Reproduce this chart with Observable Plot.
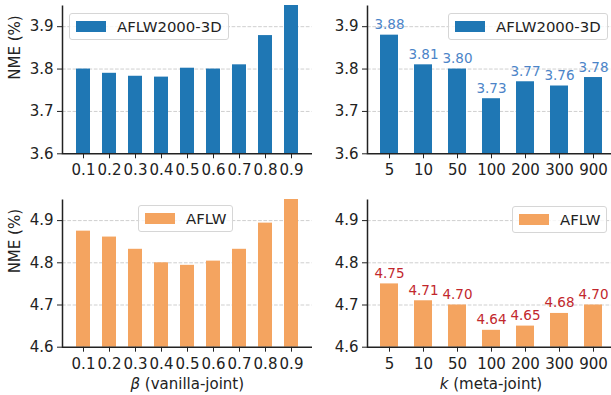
<!DOCTYPE html>
<html>
<head>
<meta charset="utf-8">
<script src="https://cdn.jsdelivr.net/npm/d3@7"></script>
<script src="https://cdn.jsdelivr.net/npm/@observablehq/plot@0.6"></script>
<style>
  html, body { margin: 0; padding: 0; background: #fff; overflow: hidden; }
  #wrap { position: relative; width: 611px; height: 395px; overflow: hidden; background: #fff; }
  #wrap > svg { position: absolute; left: 0; top: 0; }
  .lgbox { position: absolute; box-sizing: border-box; height: 27px; border: 1px solid #d6d6d6; border-radius: 3px;
           background: rgba(255,255,255,0.8); padding: 0 6px; display: flex; align-items: center; }
  .lgbox > div { margin: 0 !important; min-height: 0 !important; font-family: "DejaVu Sans", sans-serif !important;
                 font-size: 14.9px !important; color: #222 !important; }
  .lgbox span { display: inline-flex; align-items: center; margin: 0 !important; }
  .lgbox svg { margin-right: 11px !important; }
</style>
</head>
<body>
<div id="wrap"></div>
<script>
// ---- data ----
const betaLabels = ["0.1", "0.2", "0.3", "0.4", "0.5", "0.6", "0.7", "0.8", "0.9"];
const kLabels = ["5", "10", "50", "100", "200", "300", "900"];
const aflw2000Beta = [3.80, 3.79, 3.783, 3.781, 3.802, 3.80, 3.81, 3.879, 3.95];
const aflwBeta = [4.875, 4.861, 4.832, 4.80, 4.794, 4.804, 4.832, 4.894, 4.95];
const aflw2000K = [3.88, 3.81, 3.80, 3.73, 3.77, 3.76, 3.78];
const aflwK = [4.75, 4.71, 4.70, 4.64, 4.65, 4.68, 4.70];
const yTicksTop = [3.6, 3.7, 3.8, 3.9];
const yTicksBottom = [4.6, 4.7, 4.8, 4.9];
const yDomainTop = [3.6, 3.95];
const yDomainBottom = [4.6, 4.95];
const seriesTop = "AFLW2000-3D";
const seriesBottom = "AFLW";
const yLabel = "NME (%)";
const xLabelBeta = "β (vanilla-joint)";
const xLabelK = "k (meta-joint)";

const W = 620, H = 395;
const BLUE = "#1f77b4", ORANGE = "#f4a460";
const FONT = "DejaVu Sans, sans-serif";

function panel(o) {
  const data = o.labels.map((k, i) => ({k, v: o.values[i]}));
  const fw = W - o.ml - o.mr, fh = H - o.mt - o.mb;
  const marks = [
    Plot.ruleY(o.yTicks.slice(1), {stroke: "#cfcfcf", strokeWidth: 1, strokeDasharray: "3.7,1.6"}),
    Plot.barY(data, {x: "k", y1: o.yDomain[0], y2: "v", fill: o.color}),
    Plot.frame({stroke: "#222", strokeWidth: 1.5, strokeDasharray: `0 ${fw + fh} ${fw + fh}`}),
  ];
  if (o.ylabel) marks.push(Plot.text([o.ylabel], {text: d => d, frameAnchor: "left", dx: -47, rotate: -90, fill: "#222", fontSize: 15}));
  if (o.xlabel) marks.push(Plot.text([o.xlabel], {text: d => d, frameAnchor: "bottom", dy: 37, lineAnchor: "middle", fill: "#222", fontSize: 15}));
  if (o.valueColor) marks.push(Plot.text(data, {x: "k", y: "v", text: d => d.v.toFixed(2), lineAnchor: "bottom", dy: -6, fill: o.valueColor, fontSize: 13.5}));
  const svg = Plot.plot({
    width: W, height: H,
    marginLeft: o.ml, marginRight: o.mr, marginTop: o.mt, marginBottom: o.mb,
    style: {background: "transparent", fontFamily: FONT, fontSize: "15px", color: "#222", maxWidth: "none", overflow: "visible"},
    x: {type: "band", domain: o.labels, paddingInner: o.pi, paddingOuter: o.po, align: 0.5, tickSize: 5, tickPadding: 6, label: null},
    y: {domain: o.yDomain, ticks: o.yTicks, tickFormat: ".1f", tickSize: 5, tickPadding: 4, label: null},
    marks
  });
  if (o.xlabel) {
    svg.querySelectorAll("text").forEach(t => {
      if (t.textContent === o.xlabel) {
        const first = o.xlabel.slice(0, 1), rest = o.xlabel.slice(1);
        t.textContent = "";
        const ts = document.createElementNS("http://www.w3.org/2000/svg", "tspan");
        ts.setAttribute("font-style", "italic");
        ts.textContent = first;
        t.appendChild(ts);
        t.appendChild(document.createTextNode(rest));
      }
    });
  }
  return svg;
}

function legend(name, color, left, top) {
  const box = document.createElement("div");
  box.className = "lgbox";
  box.style.left = left + "px";
  box.style.top = top + "px";
  box.appendChild(Plot.legend({color: {type: "ordinal", domain: [name], range: [color]}, swatchWidth: 30, swatchHeight: 11}));
  return box;
}

const wrap = document.getElementById("wrap");
wrap.appendChild(panel({labels: betaLabels, values: aflw2000Beta, yDomain: yDomainTop, yTicks: yTicksTop, color: BLUE,
  ml: 62, mr: W - 311.5, mt: 5, mb: H - 153.3, pi: 0.47, po: 0.42, ylabel: yLabel}));
wrap.appendChild(panel({labels: kLabels, values: aflw2000K, yDomain: yDomainTop, yTicks: yTicksTop, color: BLUE,
  ml: 367, mr: W - 614, mt: 5, mb: H - 153.3, pi: 0.48, po: 0.31, valueColor: "#4c84c8"}));
wrap.appendChild(panel({labels: betaLabels, values: aflwBeta, yDomain: yDomainBottom, yTicks: yTicksBottom, color: ORANGE,
  ml: 62, mr: W - 311.5, mt: 199, mb: H - 346.7, pi: 0.47, po: 0.42, ylabel: yLabel, xlabel: xLabelBeta}));
wrap.appendChild(panel({labels: kLabels, values: aflwK, yDomain: yDomainBottom, yTicks: yTicksBottom, color: ORANGE,
  ml: 367, mr: W - 614, mt: 199, mb: H - 346.7, pi: 0.48, po: 0.31, xlabel: xLabelK, valueColor: "#c2272d"}));

wrap.appendChild(legend(seriesTop, BLUE, 69, 13));
wrap.appendChild(legend(seriesTop, BLUE, 448, 13));
wrap.appendChild(legend(seriesBottom, ORANGE, 138, 205));
wrap.appendChild(legend(seriesBottom, ORANGE, 512, 206));
</script>
</body>
</html>
